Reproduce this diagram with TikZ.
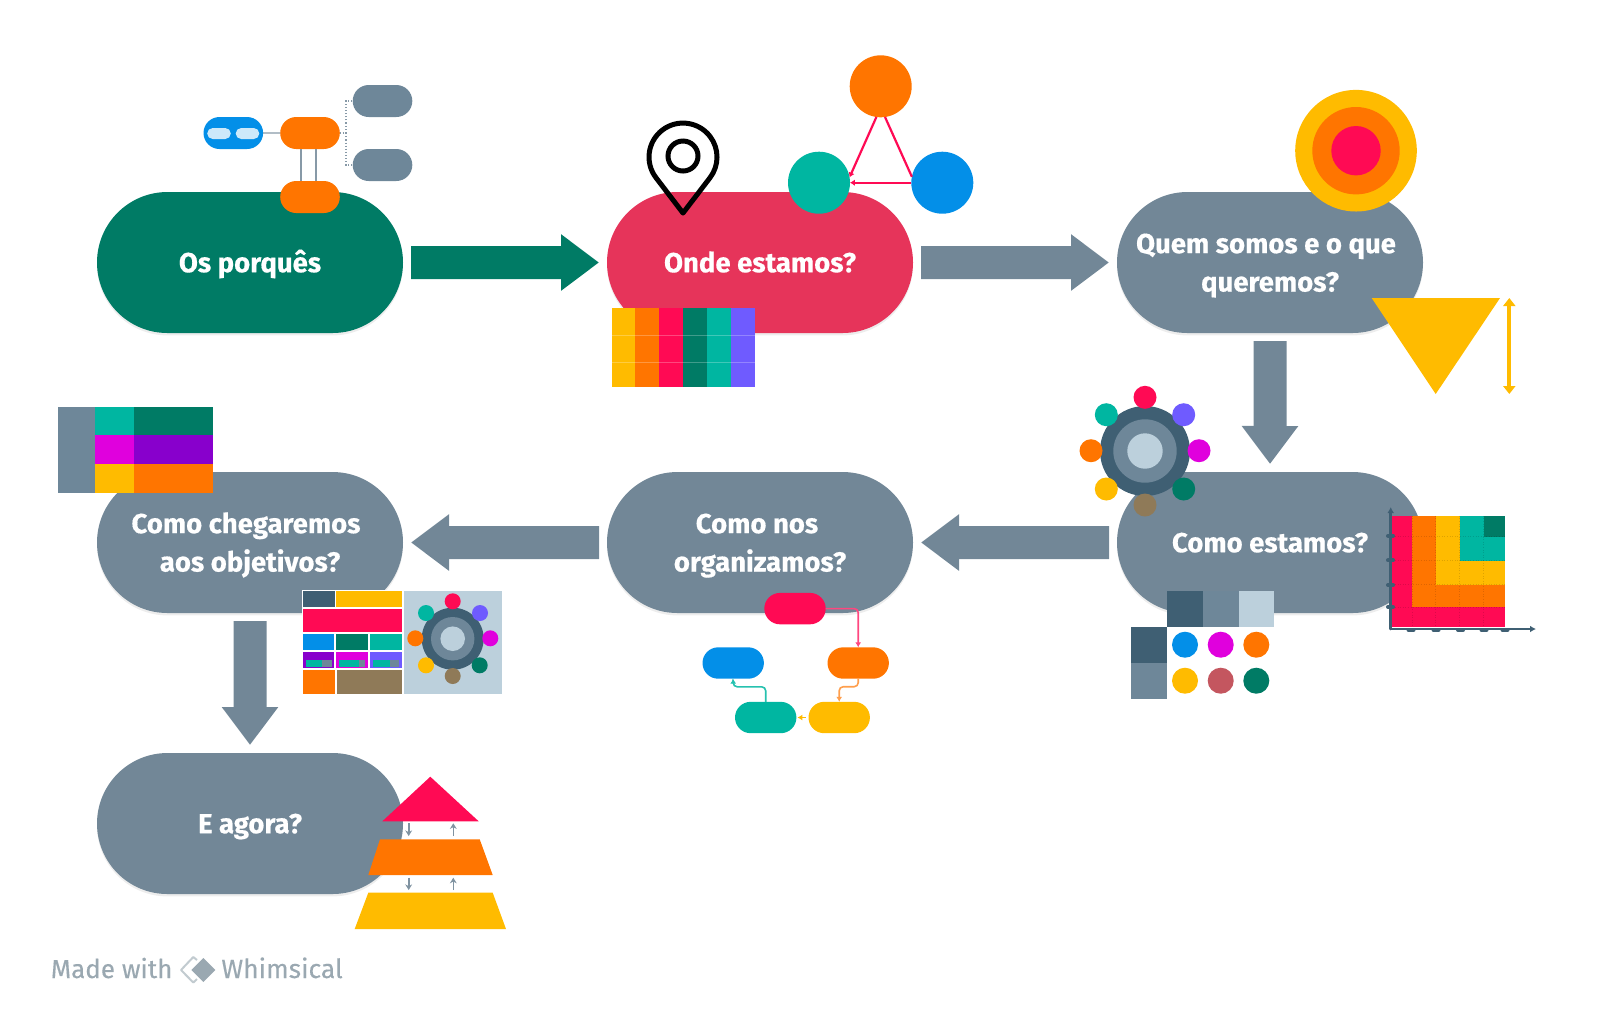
\documentclass[tikz,border=0pt]{standalone}
\usepackage{fontspec}
\setmainfont{Fira Sans}[BoldFeatures={FakeBold=0.5}]
\newfontfamily\footfont{Fira Sans}[FakeBold=0.25]
\usetikzlibrary{shapes.misc,arrows.meta,calc}

\definecolor{cGreen}{HTML}{007B65}
\definecolor{cRose}{HTML}{E6345A}
\definecolor{cSlate}{HTML}{728797}
\definecolor{cSteel}{HTML}{6E8799}
\definecolor{cDark}{HTML}{3F5F73}
\definecolor{cPale}{HTML}{BCD0DC}
\definecolor{cTeal}{HTML}{00B6A1}
\definecolor{cBlue}{HTML}{038FE8}
\definecolor{cOrange}{HTML}{FF7500}
\definecolor{cRed}{HTML}{FF0A54}
\definecolor{cYellow}{HTML}{FFBB00}
\definecolor{cIndigo}{HTML}{6F5BFF}
\definecolor{cMagenta}{HTML}{E000DD}
\definecolor{cPurple}{HTML}{8800CC}
\definecolor{cBrown}{HTML}{8F7A58}
\definecolor{cBrick}{HTML}{C4565F}
\definecolor{cMute}{HTML}{9AA8B1}

\newcommand{\cellbox}[5]{\fill[#5] (#1,#2) rectangle (#3,#4);}
% vertical struts that keep two-line labels on a fixed baseline
\newcommand{\upstrut}{\rule{0pt}{13pt}}
\newcommand{\downstrut}{\rule[-3.2pt]{0pt}{3.2pt}}

\tikzset{
  stagepill/.style={rounded rectangle, minimum width=153pt, minimum height=70.5pt,
    inner sep=0pt, outer sep=0pt, fill=#1, text=white, align=center,
    font=\fontsize{13.75}{19.2}\selectfont\bfseries,
    preaction={draw=none, fill=black, opacity=0.07, transform canvas={yshift=-1.2pt}}},
  oneline/.style={text height=9.7pt, text depth=0pt},
  bigflow/.style={line width=16.5pt, color=#1, shorten <=4pt, shorten >=4pt,
    -{Triangle[width=27pt, length=19pt]}},
  chip/.style={rounded rectangle, minimum width=30.7pt, minimum height=15.7pt,
    inner sep=0pt, outer sep=0pt, fill=#1},
  mapchip/.style={chip=#1, minimum width=29.8pt, minimum height=16pt},
  lightchip/.style={rounded rectangle, minimum width=11.8pt, minimum height=5.5pt,
    inner sep=0pt, outer sep=0pt, fill=#1},
  dot/.style={circle, inner sep=0pt, outer sep=0pt, fill=#1},
  hair/.style={line width=0.55pt, color=cSlate!85},
  tinyflow/.style={line width=0.8pt, color=#1, rounded corners=2pt,
    -{Latex[width=3pt, length=2.5pt]}},
  pyrflow/.style={line width=0.8pt, color=cSlate!90, -{Stealth[width=3.4pt, length=2.8pt]}},
  axisline/.style={line width=1.3pt, color=cDark, line cap=round},
  axistick/.style={line width=2pt, color=cDark, line cap=round},
  gridtrace/.style={line width=0.3pt, black, opacity=0.13, densely dotted}
}

\begin{document}
\begin{tikzpicture}[x=0.5pt, y=-0.5pt]
\useasboundingbox (0,0) rectangle (1600,1009);

% process stages
\node[stagepill=cGreen, oneline] (porques) at (250,262.5) {Os porquês};
\node[stagepill=cRose, oneline]  (onde)    at (760,262.5) {Onde estamos?};
\node[stagepill=cSlate] (quem)    at (1270,262.5) {\upstrut Quem somos e o que\hspace*{4pt}\\queremos?\downstrut};
\node[stagepill=cSlate, oneline] (comoest) at (1270,542.5) {Como estamos?};
\node[stagepill=cSlate] (comonos) at (760,542.5) {\upstrut Como nos\hspace*{3pt}\\organizamos?\downstrut};
\node[stagepill=cSlate] (comoche) at (250,542.5) {\upstrut Como chegaremos\hspace*{4pt}\\aos objetivos?\downstrut};
\node[stagepill=cSlate, oneline] (agora)   at (250,823.5) {E agora?};

% stage-to-stage arrows
\draw[bigflow=cGreen] (porques) -- (onde);
\draw[bigflow=cSlate] (onde) -- (quem);
\draw[bigflow=cSlate] (quem) -- (comoest);
\draw[bigflow=cSlate] (comoest) -- (comonos);
\draw[bigflow=cSlate] (comonos) -- (comoche);
\draw[bigflow=cSlate] (comoche) -- (agora);

% mind map above the first stage
\node[mapchip=cBlue]   (mapRoot)  at (233.3,133) {};
\node[lightchip=cBlue!20] (mapInA) at (219,133.5) {};
\node[lightchip=cBlue!20] (mapInB) at (247.5,133.5) {};
\node[mapchip=cOrange] (mapMid)   at (310,133) {};
\node[mapchip=cOrange] (mapLow)   at (310,197) {};
\node[mapchip=cSteel]  (mapTop)   at (382.5,101) {};
\node[mapchip=cSteel]  (mapBot)   at (382.5,165) {};
\draw[hair] (mapRoot) -- (mapMid);
\draw[hair] ([xshift=-4.5pt]mapMid.south) -- ([xshift=-4.5pt]mapLow.north);
\draw[hair] ([xshift=3pt]mapMid.south) -- ([xshift=3pt]mapLow.north);
\draw[hair, densely dotted, line width=0.7pt] (mapMid.east) -- ++(6,0) |- (mapTop.west);
\draw[hair, densely dotted, line width=0.7pt] (mapMid.east) -- ++(6,0) |- (mapBot.west);

% location pin
\draw[line width=2.5pt, line join=round, black]
  (683,213) -- (656,177.7) arc[start angle=217.4, end angle=-37.4, radius=17pt] -- cycle;
\draw[line width=2.5pt, black] (683,156) circle[radius=7.5pt];

% three circles linked in a triangle
\node[dot=cOrange, minimum size=31pt] (triTop)   at (880.7,86.3) {};
\node[dot=cTeal,   minimum size=31pt] (triLeft)  at (819,182.7) {};
\node[dot=cBlue,   minimum size=31pt] (triRight) at (942.3,182.7) {};
\draw[cRed, line width=1.1pt, -{Latex[width=3.2pt, length=2.4pt]}] (triTop.262) -- (triLeft.10);
\draw[cRed, line width=1.1pt] (triTop.278) -- (triRight.169);
\draw[cRed, line width=1.1pt, -{Latex[width=3.2pt, length=2.4pt]}] (triRight) -- (triLeft);

% colour bands under the second stage
\cellbox{611.7}{307.7}{635.3}{387.3}{cYellow}
\cellbox{635.3}{307.7}{659.3}{387.3}{cOrange}
\cellbox{659.3}{307.7}{683.3}{387.3}{cRed}
\cellbox{683.3}{307.7}{707}{387.3}{cGreen}
\cellbox{707}{307.7}{731}{387.3}{cTeal}
\cellbox{731}{307.7}{755}{387.3}{cIndigo}
\draw[white, opacity=0.25, line width=0.35pt] (611.7,335) -- (755,335) (611.7,362.7) -- (755,362.7);

% bullseye
\node[dot=cYellow, minimum size=60.8pt] (ringA) at (1356,150.7) {};
\node[dot=cOrange, minimum size=43.7pt] (ringB) at (1356,150.7) {};
\node[dot=cRed,    minimum size=24.7pt] (ringC) at (1356,150.7) {};

% inverted triangle with its height marker
\fill[cYellow] (1371.7,298) -- (1500,298) -- (1435.7,394) -- cycle;
\coordinate (spanTop) at (1509.3,298);
\coordinate (spanBot) at (1509.3,394);
\draw[cYellow, line width=1.9pt, {Triangle[width=6pt, length=4pt]}-{Triangle[width=6pt, length=4pt]}] (spanTop) -- (spanBot);

% hub with satellites beside the fourth stage
\node[dot=cDark,  minimum size=45pt]   (hubOuter) at (1145,451) {};
\node[dot=cSteel, minimum size=31.7pt] (hubMid)   at (1145,451) {};
\node[dot=cPale,  minimum size=17.7pt] (hubIn)    at (1145,451) {};
\foreach \nm/\cx/\cy/\col in {a/1145/397.3/cRed, b/1183.7/414.7/cIndigo, c/1199/450.7/cMagenta,
    d/1183.7/489/cGreen, e/1145/505/cBrown, f/1106.3/489/cYellow, g/1091/450.7/cOrange, h/1106.3/414.7/cTeal}
  \node[dot=\col, minimum size=11.5pt] (sat\nm) at (\cx,\cy) {};

% palette matrix
\fill[white] (1167,627) rectangle (1274.3,699);
\cellbox{1167}{591}{1202.8}{627}{cDark}
\cellbox{1202.8}{591}{1238.7}{627}{cSteel}
\cellbox{1238.7}{591}{1274.3}{627}{cPale}
\cellbox{1131.3}{627}{1167}{663}{cDark}
\cellbox{1131.3}{663}{1167}{699}{cSteel}
\foreach \nm/\cx/\cy/\col in {a/1185/644.7/cBlue, b/1220.7/644.7/cMagenta, c/1256.3/644.7/cOrange,
    d/1185/680.7/cYellow, e/1220.7/680.7/cBrick, f/1256.3/680.7/cGreen}
  \node[dot=\col, minimum size=13pt] (swatch\nm) at (\cx,\cy) {};

% heat map
\cellbox{1392.3}{515.7}{1412}{627}{cRed}
\cellbox{1412}{515.7}{1435.7}{607.3}{cOrange}
\cellbox{1435.7}{515.7}{1459.7}{584.7}{cYellow}
\cellbox{1459.7}{515.7}{1505.3}{560.7}{cTeal}
\cellbox{1483.7}{515.7}{1505.3}{536.7}{cGreen}
\cellbox{1459.7}{560.7}{1505.3}{584.7}{cYellow}
\cellbox{1435.7}{584.7}{1505.3}{607.3}{cOrange}
\cellbox{1412}{607.3}{1505.3}{627}{cRed}
\foreach \gy in {536.7,560.7,584.7,607.3}
  \draw[gridtrace] (1392.3,\gy) -- (1505.3,\gy);
\foreach \gx in {1412,1435.7,1459.7,1483.7}
  \draw[gridtrace] (\gx,515.7) -- (\gx,627);
\coordinate (axisO) at (1390.7,629);
\coordinate (axisY) at (1390.7,507);
\coordinate (axisX) at (1536,629);
\draw[axisline, -{Latex[width=3.4pt, length=3pt]}] (axisO) -- (axisY);
\draw[axisline, -{Latex[width=3.4pt, length=3pt]}] (axisO) -- (axisX);
\foreach \ty in {535.7,560.3,585,607}
  \draw[axistick] (1388,\ty) -- (1393,\ty);
\foreach \tx in {1411,1436,1460.5,1484,1505}
  \draw[axistick] (\tx-2.5,630) -- (\tx+2.5,630);

% small flow under the fifth stage
\node[chip=cRed]    (stepA) at (795,608.6) {};
\node[chip=cOrange] (stepB) at (858.2,663) {};
\node[chip=cYellow] (stepC) at (839.2,717.5) {};
\node[chip=cTeal]   (stepD) at (765.7,717.5) {};
\node[chip=cBlue]   (stepE) at (733.2,663) {};
\draw[tinyflow=cRed!75] (stepA.east) -| (stepB.north);
\draw[tinyflow=cOrange!70] (stepB.south) -- ++(0,8) -| (stepC.north);
\draw[tinyflow=cYellow, rounded corners=0pt] ([xshift=-1.5pt]stepC.west) -- ([xshift=0.5pt]stepD.east);
\draw[tinyflow=cTeal!85] (stepD.north) -- ++(0,-15) -| (stepE.south);

% table at the sixth stage
\cellbox{58}{407.3}{95.3}{492.7}{cSteel}
\cellbox{95.3}{407.3}{133.7}{435.3}{cTeal}
\cellbox{95.3}{435.3}{133.7}{464}{cMagenta}
\cellbox{95.3}{464}{133.7}{492.7}{cYellow}
\cellbox{133.7}{407.3}{213}{435.3}{cGreen}
\cellbox{133.7}{435.3}{213}{464}{cPurple}
\cellbox{133.7}{464}{213}{492.7}{cOrange}

% dashboard tiles
\fill[white] (302,590) rectangle (404,695);
\cellbox{302.7}{591}{335}{607.3}{cDark}
\cellbox{336}{591}{401.7}{607.3}{cYellow}
\cellbox{302.7}{609.3}{401.7}{631.7}{cRed}
\cellbox{302.7}{634}{334.3}{649.7}{cBlue}
\cellbox{336}{634}{368}{649.7}{cGreen}
\cellbox{370}{634}{401.7}{649.7}{cTeal}
\cellbox{302.7}{652}{334.3}{668.3}{cPurple}
\cellbox{336}{652}{368}{668.3}{cMagenta}
\cellbox{370}{652}{401.7}{668.3}{cIndigo}
\cellbox{305.7}{660}{322.3}{666.7}{cTeal}
\cellbox{322.3}{660}{332}{666.7}{cSteel}
\cellbox{339.3}{660}{359}{666.7}{cTeal}
\cellbox{359}{660}{365.3}{666.7}{cSteel}
\cellbox{373}{660}{390}{666.7}{cTeal}
\cellbox{390}{660}{399.3}{666.7}{cSteel}
\cellbox{302.7}{670.3}{334.7}{694}{cOrange}
\cellbox{337}{670.3}{401.7}{694}{cBrown}
\cellbox{404}{591}{502.3}{694.3}{cPale}
\node[dot=cDark,  minimum size=31pt]   (miniOuter) at (452.7,638.7) {};
\node[dot=cSteel, minimum size=21.7pt] (miniMid)   at (452.7,638.7) {};
\node[dot=cPale,  minimum size=12.3pt] (miniIn)    at (452.7,638.7) {};
\foreach \nm/\cx/\cy/\col in {a/452.7/601.3/cRed, b/480/613/cIndigo, c/490.3/638.3/cMagenta,
    d/479.7/665.3/cGreen, e/452.7/676/cBrown, f/426/665.3/cYellow, g/415.3/638.3/cOrange, h/426/613/cTeal}
  \node[dot=\col, minimum size=8pt] (mini\nm) at (\cx,\cy) {};

% pyramid
\fill[cRed] (430.3,776.7) -- (478.7,821.3) -- (382.3,821.3) -- cycle;
\fill[cOrange] (380,839.3) -- (479.7,839.3) -- (492.7,875) -- (368.3,875) -- cycle;
\fill[cYellow] (368.3,892.7) -- (492.7,892.7) -- (506,929) -- (354.7,929) -- cycle;
\coordinate (pyrA1) at (408.7,823.3); \coordinate (pyrA2) at (408.7,836);
\coordinate (pyrB1) at (453.3,836);   \coordinate (pyrB2) at (453.3,823.3);
\coordinate (pyrC1) at (408.7,877.7); \coordinate (pyrC2) at (408.7,890);
\coordinate (pyrD1) at (453.3,890);   \coordinate (pyrD2) at (453.3,877.7);
\draw[pyrflow] (pyrA1) -- (pyrA2);
\draw[pyrflow] (pyrB1) -- (pyrB2);
\draw[pyrflow] (pyrC1) -- (pyrC2);
\draw[pyrflow] (pyrD1) -- (pyrD2);

% footer mark
\node[anchor=base west, inner sep=0pt, text=cMute, font=\footfont\fontsize{13}{15}\selectfont] (madeWith) at (50.5,978) {Made with};
\draw[cMute!60, line width=1pt, line join=round] (197,960) -- (193.3,957) -- (181,970) -- (193.3,982.5) -- (197,979);
\fill[cMute] (191.3,970) -- (203.3,958) -- (215.3,970) -- (203.3,982) -- cycle;
\node[anchor=base west, inner sep=0pt, text=cMute, font=\footfont\fontsize{13.2}{15}\selectfont] (brandName) at (221,978) {Whimsical};
\end{tikzpicture}
\end{document}
